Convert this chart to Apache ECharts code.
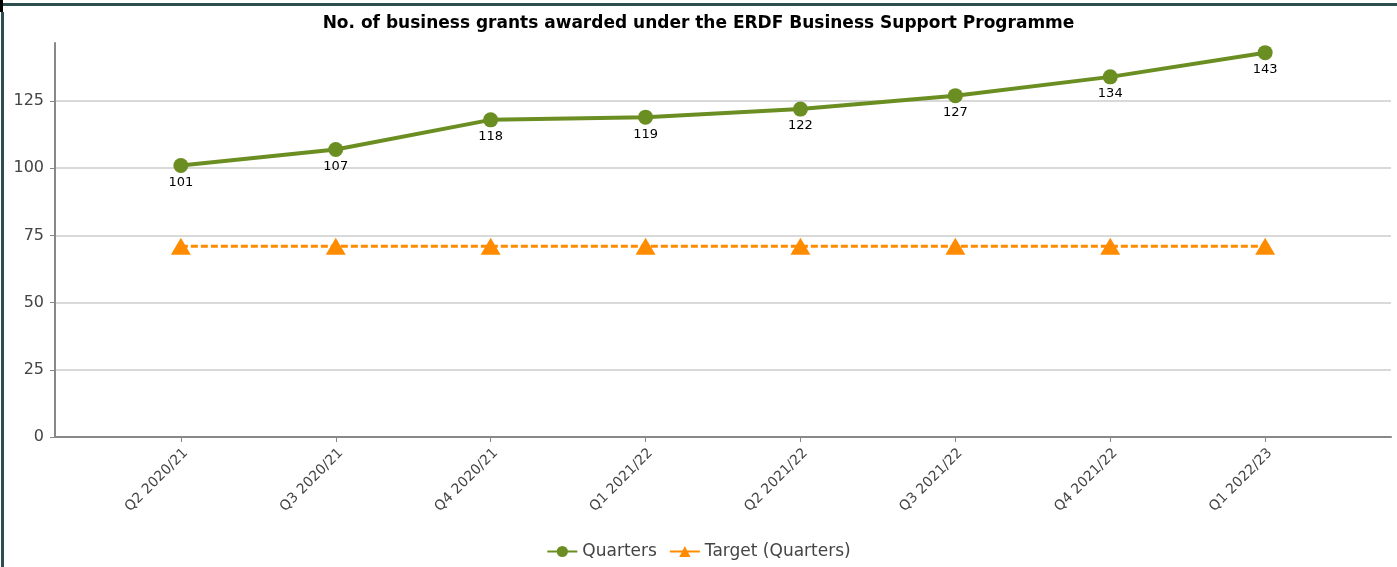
<!DOCTYPE html>
<html>
<head>
<meta charset="utf-8">
<script src="https://cdn.jsdelivr.net/npm/echarts@6/dist/echarts.min.js"></script>
<style>
html,body{margin:0;padding:0;background:#fff;}
#chart{width:1397px;height:567px;}
</style>
</head>
<body>
<div id="chart"></div>
<script>
const titleText = 'No. of business grants awarded under the ERDF Business Support Programme';
const categories = ['Q2 2020/21','Q3 2020/21','Q4 2020/21','Q1 2021/22','Q2 2021/22','Q3 2021/22','Q4 2021/22','Q1 2022/23'];
const quarters = [101, 107, 118, 119, 122, 127, 134, 143];
const target = [71, 71, 71, 71, 71, 71, 71, 71];
const yTicks = [0, 25, 50, 75, 100, 125];

const pad = 0.8125;
const font = '"DejaVu Sans", Verdana, sans-serif';
const chart = echarts.init(document.getElementById('chart'), null, {renderer: 'canvas'});
const idx = categories.map((c, i) => i);

chart.setOption({
  animation: false,
  backgroundColor: '#fff',
  title: {
    text: titleText,
    left: 'center',
    top: 10,
    textStyle: {fontFamily: font, fontSize: 17, fontWeight: 'bold', color: '#000'}
  },
  legend: {
    bottom: 2,
    left: 'center',
    itemWidth: 30,
    itemHeight: 14,
    itemGap: 12,
    textStyle: {fontFamily: font, fontSize: 17, color: '#444'},
    lineStyle: {type: 'solid'},
    data: ['Quarters', 'Target (Quarters)']
  },
  graphic: [
    {type: 'rect', shape: {x: 3, y: 3, width: 1394, height: 3}, style: {fill: '#2e4f4f'}, silent: true},
    {type: 'rect', shape: {x: 1, y: 12, width: 3, height: 555}, style: {fill: '#2e4f4f'}, silent: true},
    {type: 'rect', shape: {x: 0, y: 0, width: 3, height: 12}, style: {fill: '#000'}, silent: true}
  ],
  grid: {left: 55, right: 6, top: 43, bottom: 130, containLabel: false},
  xAxis: {
    type: 'value',
    min: -pad,
    max: categories.length - 1 + pad,
    splitLine: {show: false},
    axisLine: {show: true, onZero: false, lineStyle: {color: '#888', width: 2}},
    axisTick: {show: true, customValues: idx, length: 5, lineStyle: {color: '#888'}},
    axisLabel: {
      customValues: idx,
      rotate: 45,
      margin: 9,
      verticalAlign: 'top',
      fontFamily: font,
      fontSize: 14,
      color: '#444',
      formatter: v => categories[Math.round(v)]
    }
  },
  yAxis: {
    type: 'value',
    min: 0,
    max: 146.6,
    splitLine: {show: true, lineStyle: {color: '#ccc', width: 1.5}},
    axisLine: {show: true, onZero: false, lineStyle: {color: '#888', width: 2}},
    axisTick: {show: true, customValues: yTicks, length: 5, lineStyle: {color: '#888'}},
    axisLabel: {customValues: yTicks, fontFamily: font, fontSize: 16, color: '#444', margin: 11}
  },
  series: [
    {
      name: 'Quarters',
      type: 'line',
      data: quarters.map((v, i) => [i, v]),
      symbol: 'circle',
      symbolSize: 15,
      lineStyle: {color: '#6b8e23', width: 4},
      itemStyle: {color: '#6b8e23'},
      label: {show: true, position: 'bottom', distance: 3, fontFamily: font, fontSize: 13, color: '#000', formatter: p => p.value[1]},
      z: 3
    },
    {
      name: 'Target (Quarters)',
      type: 'line',
      data: target.map((v, i) => [i, v]),
      symbol: 'triangle',
      symbolSize: [20, 17],
      lineStyle: {color: '#ff8c00', width: 3, type: [7, 3]},
      itemStyle: {color: '#ff8c00'},
      z: 2
    }
  ]
});
</script>
</body>
</html>
